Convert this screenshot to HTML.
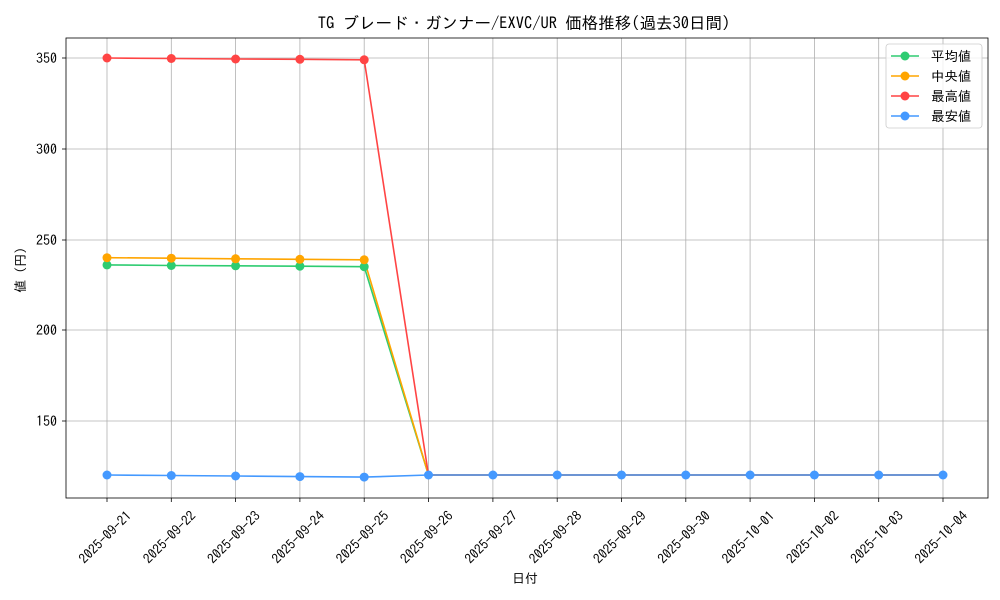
<!DOCTYPE html><html><head><meta charset="utf-8"><style>body{margin:0;background:#fff}svg{display:block}text{font-family:"IPAGothic","Noto Sans CJK JP",monospace;fill:#000}</style></head><body>
<svg width="1000" height="600" viewBox="0 0 1000 600">
<rect width="1000" height="600" fill="#fff"/>
<text x="524" y="29" font-size="16.5" text-anchor="middle">TG ブレード・ガンナー/EXVC/UR 価格推移(過去30日間)</text>
<g stroke="#b0b0b0" stroke-width="0.8">
<line x1="66" x2="988" y1="58" y2="58"/><line x1="66" x2="988" y1="149" y2="149"/><line x1="66" x2="988" y1="240" y2="240"/><line x1="66" x2="988" y1="330" y2="330"/><line x1="66" x2="988" y1="421" y2="421"/>
<line x1="107" x2="107" y1="38" y2="498"/><line x1="171.3" x2="171.3" y1="38" y2="498"/><line x1="235.6" x2="235.6" y1="38" y2="498"/><line x1="299.9" x2="299.9" y1="38" y2="498"/><line x1="364.2" x2="364.2" y1="38" y2="498"/><line x1="428.5" x2="428.5" y1="38" y2="498"/><line x1="492.9" x2="492.9" y1="38" y2="498"/><line x1="557.2" x2="557.2" y1="38" y2="498"/><line x1="621.5" x2="621.5" y1="38" y2="498"/><line x1="685.8" x2="685.8" y1="38" y2="498"/><line x1="750.1" x2="750.1" y1="38" y2="498"/><line x1="814.4" x2="814.4" y1="38" y2="498"/><line x1="878.7" x2="878.7" y1="38" y2="498"/><line x1="943" x2="943" y1="38" y2="498"/>
</g>
<rect x="66" y="38" width="922" height="460" fill="none" stroke="#000" stroke-width="0.8"/>
<g stroke="#000" stroke-width="0.8">
<line x1="62" x2="66" y1="58" y2="58"/><line x1="62" x2="66" y1="149" y2="149"/><line x1="62" x2="66" y1="240" y2="240"/><line x1="62" x2="66" y1="330" y2="330"/><line x1="62" x2="66" y1="421" y2="421"/>
<line x1="107" x2="107" y1="498" y2="502"/><line x1="171.3" x2="171.3" y1="498" y2="502"/><line x1="235.6" x2="235.6" y1="498" y2="502"/><line x1="299.9" x2="299.9" y1="498" y2="502"/><line x1="364.2" x2="364.2" y1="498" y2="502"/><line x1="428.5" x2="428.5" y1="498" y2="502"/><line x1="492.9" x2="492.9" y1="498" y2="502"/><line x1="557.2" x2="557.2" y1="498" y2="502"/><line x1="621.5" x2="621.5" y1="498" y2="502"/><line x1="685.8" x2="685.8" y1="498" y2="502"/><line x1="750.1" x2="750.1" y1="498" y2="502"/><line x1="814.4" x2="814.4" y1="498" y2="502"/><line x1="878.7" x2="878.7" y1="498" y2="502"/><line x1="943" x2="943" y1="498" y2="502"/>
</g>
<g font-size="14" text-anchor="end">
<text x="57" y="63">350</text><text x="57" y="154">300</text><text x="57" y="245">250</text><text x="57" y="335">200</text><text x="57" y="426">150</text>
</g>
<g font-size="13.5" text-anchor="middle" dominant-baseline="central">
<text transform="translate(105,537) rotate(-45)">2025-09-21</text>
<text transform="translate(169.3,537) rotate(-45)">2025-09-22</text>
<text transform="translate(233.6,537) rotate(-45)">2025-09-23</text>
<text transform="translate(297.9,537) rotate(-45)">2025-09-24</text>
<text transform="translate(362.2,537) rotate(-45)">2025-09-25</text>
<text transform="translate(426.5,537) rotate(-45)">2025-09-26</text>
<text transform="translate(490.9,537) rotate(-45)">2025-09-27</text>
<text transform="translate(555.2,537) rotate(-45)">2025-09-28</text>
<text transform="translate(619.5,537) rotate(-45)">2025-09-29</text>
<text transform="translate(683.8,537) rotate(-45)">2025-09-30</text>
<text transform="translate(748.1,537) rotate(-45)">2025-10-01</text>
<text transform="translate(812.4,537) rotate(-45)">2025-10-02</text>
<text transform="translate(876.7,537) rotate(-45)">2025-10-03</text>
<text transform="translate(941,537) rotate(-45)">2025-10-04</text>
</g>
<text x="525" y="583" font-size="13" text-anchor="middle">日付</text>
<text transform="translate(25,270) rotate(-90)" font-size="13" text-anchor="middle">値 (円)</text>
<g stroke-width="1.6" fill="none">
<polyline stroke="#2ecc71" points="107,264.9 171.3,265.5 235.6,265.8 299.9,266.2 364.2,266.7 428.5,475 492.9,475 557.2,475 621.5,475 685.8,475 750.1,475 814.4,475 878.7,475 943,475"/>
<polyline stroke="#ffa500" points="107,257.7 171.3,258.2 235.6,258.8 299.9,259.3 364.2,259.8 428.5,475 492.9,475 557.2,475 621.5,475 685.8,475 750.1,475 814.4,475 878.7,475 943,475"/>
<polyline stroke="#ff4444" points="107,58 171.3,58.5 235.6,59 299.9,59.3 364.2,59.8 428.5,475 492.9,475 557.2,475 621.5,475 685.8,475 750.1,475 814.4,475 878.7,475 943,475"/>
<polyline stroke="#4499ff" points="107,475 171.3,475.5 235.6,476 299.9,476.6 364.2,477.1 428.5,475 492.9,475 557.2,475 621.5,475 685.8,475 750.1,475 814.4,475 878.7,475 943,475"/>
</g>
<g fill="#2ecc71"><circle cx="107" cy="264.9" r="4.5"/><circle cx="171.3" cy="265.5" r="4.5"/><circle cx="235.6" cy="265.8" r="4.5"/><circle cx="299.9" cy="266.2" r="4.5"/><circle cx="364.2" cy="266.7" r="4.5"/></g>
<g fill="#ffa500"><circle cx="107" cy="257.7" r="4.5"/><circle cx="171.3" cy="258.2" r="4.5"/><circle cx="235.6" cy="258.8" r="4.5"/><circle cx="299.9" cy="259.3" r="4.5"/><circle cx="364.2" cy="259.8" r="4.5"/></g>
<g fill="#ff4444"><circle cx="107" cy="58" r="4.5"/><circle cx="171.3" cy="58.5" r="4.5"/><circle cx="235.6" cy="59" r="4.5"/><circle cx="299.9" cy="59.3" r="4.5"/><circle cx="364.2" cy="59.8" r="4.5"/></g>
<g fill="#4499ff"><circle cx="107" cy="475" r="4.5"/><circle cx="171.3" cy="475.5" r="4.5"/><circle cx="235.6" cy="476" r="4.5"/><circle cx="299.9" cy="476.6" r="4.5"/><circle cx="364.2" cy="477.1" r="4.5"/><circle cx="428.5" cy="475" r="4.5"/><circle cx="492.9" cy="475" r="4.5"/><circle cx="557.2" cy="475" r="4.5"/><circle cx="621.5" cy="475" r="4.5"/><circle cx="685.8" cy="475" r="4.5"/><circle cx="750.1" cy="475" r="4.5"/><circle cx="814.4" cy="475" r="4.5"/><circle cx="878.7" cy="475" r="4.5"/><circle cx="943" cy="475" r="4.5"/></g>
<rect x="886" y="44" width="96" height="84" rx="3" fill="#fff" fill-opacity="0.8" stroke="#ccc" stroke-width="0.8"/>
<g stroke-width="1.6">
<line x1="891" x2="919" y1="56" y2="56" stroke="#2ecc71"/><circle cx="905" cy="56" r="4.5" fill="#2ecc71"/>
<line x1="891" x2="919" y1="76" y2="76" stroke="#ffa500"/><circle cx="905" cy="76" r="4.5" fill="#ffa500"/>
<line x1="891" x2="919" y1="96" y2="96" stroke="#ff4444"/><circle cx="905" cy="96" r="4.5" fill="#ff4444"/>
<line x1="891" x2="919" y1="116" y2="116" stroke="#4499ff"/><circle cx="905" cy="116" r="4.5" fill="#4499ff"/>
</g>
<g font-size="13.5"><text x="931" y="61">平均値</text><text x="931" y="81"> 中央値</text><text x="931" y="101">最高値</text><text x="931" y="121">最安値</text></g>
</svg></body></html>
